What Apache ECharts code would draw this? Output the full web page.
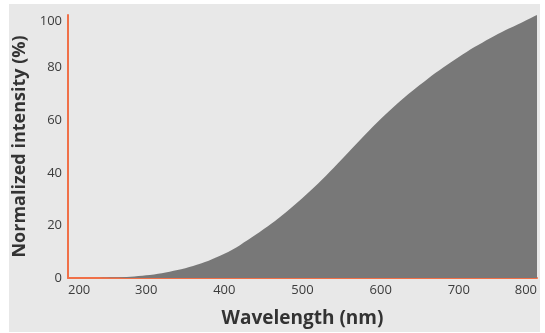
<!DOCTYPE html>
<html>
<head>
<meta charset="utf-8">
<style>
  html, body { margin: 0; padding: 0; background: #ffffff; }
  #chart { width: 545px; height: 333px; }
</style>
<script src="https://cdn.jsdelivr.net/npm/echarts@6/dist/echarts.min.js"></script>
</head>
<body>
<div id="chart"></div>
<script>
// Wavelength samples (nm) and normalized intensity (%)
const wavelengths = [200, 220, 240, 260, 280, 300, 320, 340, 360, 380, 400, 420, 440, 460, 480, 500,
                     520, 540, 560, 580, 600, 620, 640, 660, 680, 700, 720, 740, 760, 780, 800];
const intensity   = [0, 0, 0.03, 0.15, 0.45, 1.0, 1.8, 3.0, 4.6, 6.6, 9.2, 12.5, 16.4, 20.6, 25.3, 30.4,
                     35.9, 41.9, 48.2, 54.5, 60.5, 66.0, 71.0, 75.7, 80.0, 84.0, 87.8, 91.2, 94.3, 97.1, 100];
const xTicks = [200, 300, 400, 500, 600, 700, 800];
const yTicks = [0, 20, 40, 60, 80, 100];

const axisColor = '#f07048';
const labelFont = { fontFamily: 'Open Sans', fontSize: 13, color: '#3c3c3c' };

const chart = echarts.init(document.getElementById('chart'), null, { renderer: 'canvas' });
chart.setOption({
  animation: false,
  graphic: [{
    type: 'rect', z: -10, silent: true,
    shape: { x: 9, y: 4, width: 531, height: 328 },
    style: { fill: '#e8e8e8' }
  }],
  grid: { left: 68, right: 8, top: 15, bottom: 52 },
  xAxis: {
    type: 'value',
    min: xTicks[0], max: xTicks[xTicks.length - 1], interval: 100,
    name: 'Wavelength (nm)',
    nameLocation: 'middle',
    nameGap: 31,
    nameTextStyle: { fontFamily: 'Open Sans', fontWeight: 'bold', fontSize: 19, color: '#333333' },
    axisLine: { show: true, lineStyle: { color: axisColor, width: 2 } },
    axisTick: { show: false },
    splitLine: { show: false },
    axisLabel: Object.assign({ margin: 6, alignMinLabel: 'left', alignMaxLabel: 'right' }, labelFont)
  },
  yAxis: {
    type: 'value',
    min: yTicks[0], max: yTicks[yTicks.length - 1], interval: 20,
    name: 'Normalized intensity (%)',
    nameLocation: 'middle',
    nameGap: 37,
    nameTextStyle: { fontFamily: 'Open Sans', fontWeight: 'bold', fontSize: 18, color: '#333333' },
    axisLine: { show: true, lineStyle: { color: axisColor, width: 2 } },
    axisTick: { show: false },
    splitLine: { show: false },
    axisLabel: Object.assign({ margin: 6, verticalAlignMaxLabel: 'top' }, labelFont)
  },
  series: [{
    type: 'line',
    data: wavelengths.map((w, i) => [w, intensity[i]]),
    showSymbol: false,
    smooth: 0.3,
    lineStyle: { width: 0 },
    areaStyle: { color: '#787878', opacity: 1 },
    z: 1
  }]
});
</script>
</body>
</html>
